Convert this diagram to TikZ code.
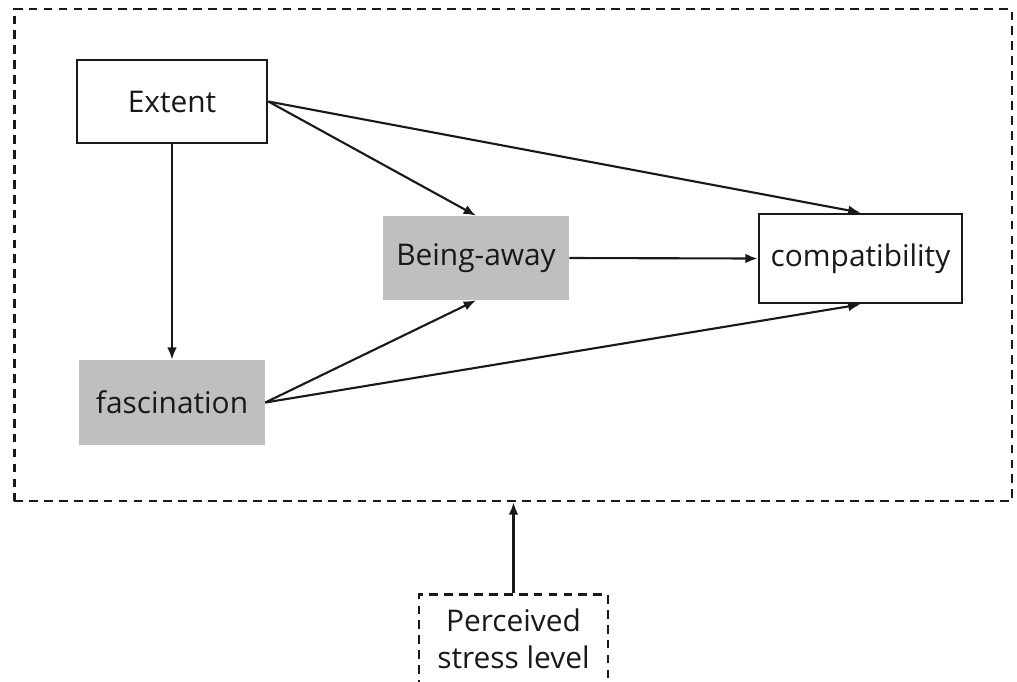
\documentclass[tikz,border=0pt]{standalone}
\usepackage{fontspec}
\setmainfont{Open Sans}
\usetikzlibrary{arrows.meta}
\definecolor{boxgray}{RGB}{191,191,191}
\definecolor{ink}{RGB}{25,25,25}
\begin{document}
\begin{tikzpicture}[x=0.02cm,y=-0.02cm,
  base/.style={rectangle,inner sep=0pt,font=\fontsize{17pt}{21pt}\selectfont,text=ink},
  whitebox/.style={base,draw=ink,line width=1.6pt,fill=white},
  graybox/.style={base,fill=boxgray},
  dashbox/.style={base,draw=ink,line width=1.6pt,dash pattern=on 5pt off 3.5pt},
  conn/.style={draw=ink,line width=1.2pt,-{Latex[length=7pt,width=5.5pt]}}]
\useasboundingbox (0,0) rectangle (1017,681);
\clip (0,0) rectangle (1017,681);
\fill[white] (0,0) rectangle (1017,681);
\node[dashbox,minimum width=19.96cm,minimum height=9.84cm] (frame) at (513,255) {};
\node[whitebox,minimum width=3.8cm,minimum height=1.66cm] (ext) at (172,101.5) {Extent};
\node[graybox,minimum width=3.72cm,minimum height=1.68cm] (ba) at (476,258) {Being-away};
\node[whitebox,minimum width=4.06cm,minimum height=1.78cm] (comp) at (860.5,258.5) {compatibility};
\node[graybox,minimum width=3.72cm,minimum height=1.7cm] (fas) at (172,402.5) {fascination};
\node[dashbox,minimum width=3.78cm,minimum height=1.78cm,align=center,font=\fontsize{17pt}{21pt}\selectfont] (perc) at (513.5,639) {Perceived\\stress level};
\draw[conn] (ext.south) -- (fas.north);
\draw[conn] (ext.east) -- (ba.north);
\draw[conn] (ext.east) -- (comp.north);
\draw[conn] (ba.east) -- (comp.west);
\draw[conn] (fas.east) -- (ba.south);
\draw[conn] (fas.east) -- (comp.south);
\draw[conn] (perc.north) -- (perc.north |- frame.south);
\end{tikzpicture}
\end{document}
